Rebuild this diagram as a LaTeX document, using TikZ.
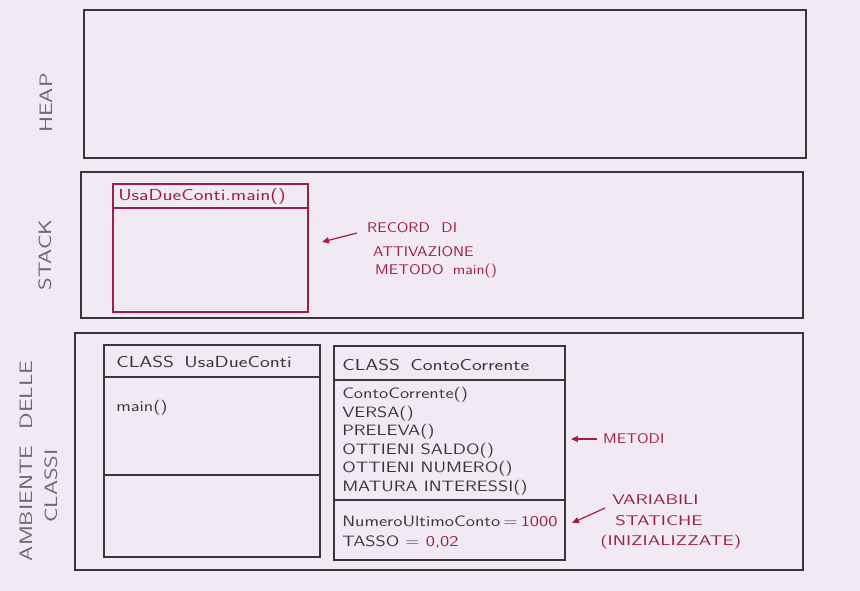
\documentclass[tikz,border=0pt]{standalone}
\usepackage{xcolor}
\usetikzlibrary{arrows.meta,positioning}

\definecolor{paper}{RGB}{241,234,244}
\definecolor{ink}{RGB}{56,54,58}
\definecolor{pencil}{RGB}{112,106,116}
\definecolor{redink}{RGB}{158,30,72}

\tikzset{
    area/.style={draw=ink, line width=1.7pt},
    frame/.style={draw=ink, line width=1.6pt},
    redframe/.style={draw=redink, line width=1.2pt},
    side/.style={font=\sffamily\fontsize{18}{20}\selectfont, text=pencil, rotate=90, xscale=1.35},
    title/.style={font=\sffamily\fontsize{16}{18}\selectfont, text=ink, anchor=west, inner sep=0pt, xscale=1.3},
    entry/.style={font=\sffamily\fontsize{15}{17}\selectfont, text=ink, anchor=west, inner sep=0pt, xscale=1.25},
    note/.style={font=\sffamily\fontsize{14}{16}\selectfont, text=redink, anchor=west, inner sep=0pt, xscale=1.15},
    pointer/.style={-{Triangle[length=7pt,width=6pt]}, draw=redink, line width=1.2pt}
}

\begin{document}
\begin{tikzpicture}[x=1pt, y=-1pt]
    \fill[paper] (0,0) rectangle (860,591);
    \useasboundingbox (0,0) rectangle (860,591);

    % Memory areas
    \draw[area] (84,10) rectangle (806,158);
    \draw[area] (81,172) rectangle (803,318);
    \draw[area] (75,333) rectangle (803,570);
    \node[side] (heap) at (46,103) {HEAP};
    \node[side] (stack) at (45,255) {STACK};
    \node[side] (ambiente) at (26,461) {AMBIENTE\hspace{12pt}DELLE};
    \node[side] (classi) at (51,486) {CLASSI};

    % Activation record on the stack
    \draw[redframe] (113,184) rectangle (308,312);
    \draw[redframe] (113,208) -- (308,208);
    \node[title, text=redink] (frame) at (118,197) {UsaDueConti.main()};
    \node[note] (rec1) at (367,228) {RECORD\hspace{10pt}DI};
    \node[note] (rec2) at (373,252) {ATTIVAZIONE};
    \node[note] (rec3) at (375,271) {METODO\hspace{8pt}main()};
    \coordinate (framept) at (322,242);
    \draw[pointer] (357,233) -- (framept);

    % Class UsaDueConti
    \draw[frame] (104,345) rectangle (320,557);
    \draw[frame] (104,377) -- (320,377);
    \draw[frame] (104,475) -- (320,475);
    \node[title] (usa) at (116,362) {CLASS\hspace{8pt}UsaDueConti};
    \node[entry] (main) at (116,408) {main()};

    % Class ContoCorrente
    \draw[frame] (334,346) rectangle (565,560);
    \draw[frame] (334,380) -- (565,380);
    \draw[frame] (334,500) -- (565,500);
    \node[title] (conto) at (342,365) {CLASS\hspace{8pt}ContoCorrente};
    \node[entry] (m1) at (342,395) {ContoCorrente()};
    \node[entry] (m2) at (342,414) {VERSA()};
    \node[entry] (m3) at (342,432) {PRELEVA()};
    \node[entry] (m4) at (342,451) {OTTIENI SALDO()};
    \node[entry] (m5) at (342,469) {OTTIENI NUMERO()};
    \node[entry] (m6) at (342,488) {MATURA INTERESSI()};
    \node[entry] (v1) at (342,521) {NumeroUltimoConto\,=\,\textcolor{redink}{1000}};
    \node[entry] (v2) at (342,542) {TASSO = \textcolor{redink}{0,02}};

    % Notes on the right
    \node[note] (metodi) at (603,439) {METODI};
    \coordinate (methodspt) at (571,439);
    \draw[pointer] (597,439) -- (methodspt);
    \node[note, xscale=1.2] (var1) at (612,500) {VARIABILI};
    \node[note, xscale=1.2] (var2) at (615,521) {STATICHE};
    \node[note, xscale=1.2] (var3) at (600,542) {(INIZIALIZZATE)};
    \coordinate (staticpt) at (572,523);
    \draw[pointer] (605,508) -- (staticpt);
\end{tikzpicture}
\end{document}
